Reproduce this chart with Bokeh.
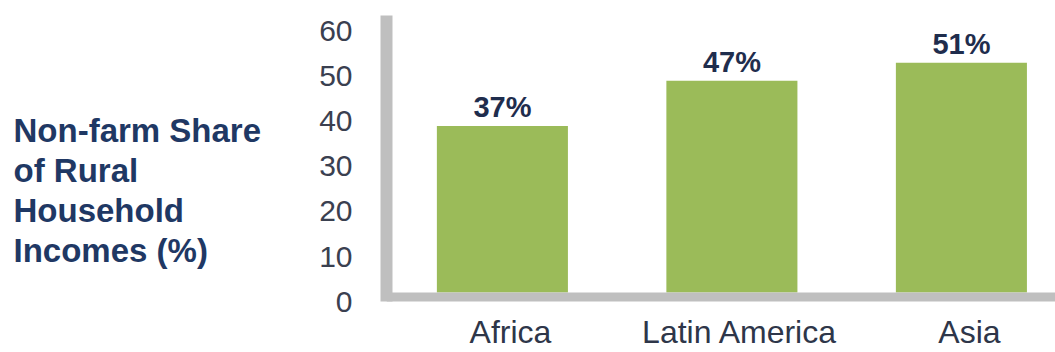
from bokeh.plotting import figure
from bokeh.layouts import row
from bokeh.models import Range1d, LinearAxis, FixedTicker, Span, ColumnDataSource
from bokeh.core.properties import value
from bokeh.embed import file_html
from bokeh.resources import INLINE

# ---- data ----
categories = ["Africa", "Latin America", "Asia"]
shares = [37, 47, 51]
share_labels = [f"{v}%" for v in shares]
y_ticks = [0, 10, 20, 30, 40, 50, 60]
title_lines = ["Non-farm Share", "of Rural", "Household", "Incomes (%)"]

# ---- style ----
FONT = "Liberation Sans"
GREEN = "#9BBB59"
GRAY = "#BFBFBF"
NAVY = "#1F3864"
TEXT = "#2E3649"

W, H = 1055, 352
LEFT_W = 300

xs = list(range(len(categories)))
label_shift = 0.035
xtick_pos = [i + label_shift for i in xs]

src = ColumnDataSource(dict(x=xs, share=shares, label=share_labels))

# ---- left panel: title block ----
t = figure(width=LEFT_W, height=H, output_backend="svg", toolbar_location=None,
           x_axis_location=None, y_axis_location=None,
           x_range=Range1d(0, LEFT_W), y_range=Range1d(0, H), min_border=0)
t.outline_line_color = None
t.grid.visible = False
t.background_fill_color = "white"
t.border_fill_color = "white"
t.text(x=[13], y=[H - 115], text=["\n".join(title_lines)],
       text_font=value(FONT), text_font_style="bold", text_font_size="33px",
       text_color=NAVY, text_align="left", text_baseline="top",
       text_line_height=1.08)

# ---- main chart ----
p = figure(width=W - LEFT_W, height=H, output_backend="svg", toolbar_location=None,
           x_axis_location=None, y_axis_location=None,
           x_range=Range1d(-0.505, 2.41), y_range=Range1d(-4.2, 61.5),
           min_border_left=386 - LEFT_W, min_border_right=0, min_border_top=15,
           min_border_bottom=36)
p.outline_line_color = None
p.background_fill_color = "white"
p.border_fill_color = "white"
p.xgrid.grid_line_color = None
p.ygrid.grid_line_color = None
p.grid.visible = False

p.vbar(x="x", top="share", bottom=0, width=0.571, source=src,
       fill_color=GREEN, line_color=None)

p.text(x="x", y="share", text="label", source=src,
       text_font=value(FONT), text_font_style="bold", text_font_size="29px",
       text_color="#1F2D4D", text_align="center", text_baseline="alphabetic",
       y_offset=-19)

p.add_layout(Span(location=-1.0, dimension="width", line_color=GRAY, line_width=9))

p.extra_y_ranges = {"ticks": Range1d(-2.2, 63.5)}
yax = LinearAxis(y_range_name="ticks", ticker=FixedTicker(ticks=y_ticks),
                 bounds=(0, 63.5), axis_line_color=GRAY, axis_line_width=12,
                 major_tick_line_color=None, minor_tick_line_color=None,
                 major_tick_in=0, major_tick_out=0, major_label_standoff=34,
                 major_label_text_font=FONT, major_label_text_font_size="30px",
                 major_label_text_color="#3A4050")
p.add_layout(yax, "left")

xax = LinearAxis(ticker=FixedTicker(ticks=xtick_pos),
                 major_label_overrides={t_: c for t_, c in zip(xtick_pos, categories)},
                 axis_line_color=None, major_tick_line_color=None,
                 minor_tick_line_color=None, major_tick_in=0, major_tick_out=0,
                 major_label_standoff=2, major_label_text_font=FONT,
                 major_label_text_font_size="32px", major_label_text_color=TEXT)
p.add_layout(xax, "below")

layout = row(t, p, spacing=0)
open("out.html", "w").write(file_html(layout, INLINE))
